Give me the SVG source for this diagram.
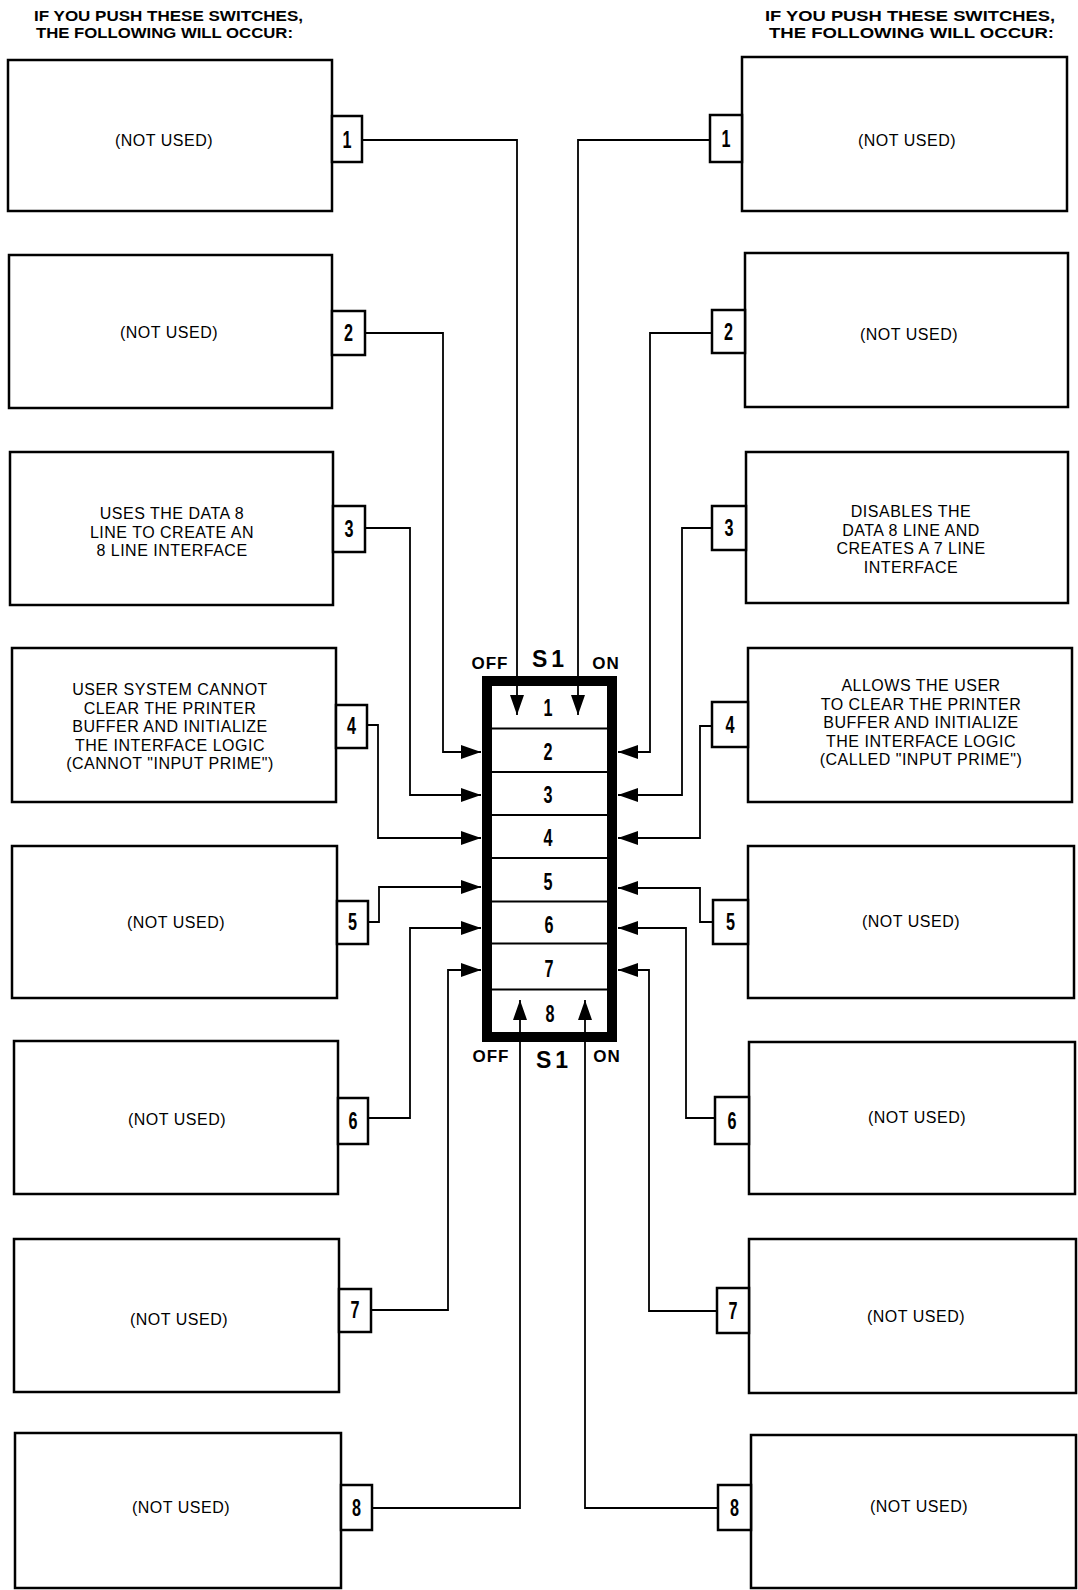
<svg xmlns="http://www.w3.org/2000/svg" width="1078" height="1590" viewBox="0 0 1078 1590">
<style>
.box{fill:#fff;stroke:#000;stroke-width:2.5}
.tab{fill:#fff;stroke:#000;stroke-width:2.5}
.wire{fill:none;stroke:#000;stroke-width:1.8}
.t{font-family:"Liberation Sans",Arial,sans-serif;font-size:16px;letter-spacing:0.5px;text-anchor:middle;fill:#000}
.d{font-family:"Liberation Sans",Arial,sans-serif;font-weight:bold;font-size:23px;text-anchor:middle;fill:#000}
.h{font-family:"Liberation Sans",Arial,sans-serif;font-weight:bold;font-size:14px;fill:#000}
.lab{font-family:"Liberation Sans",Arial,sans-serif;font-weight:bold;font-size:17px;letter-spacing:1px;text-anchor:middle;fill:#000}
.s1{font-family:"Liberation Sans",Arial,sans-serif;font-weight:bold;font-size:23px;letter-spacing:4px;text-anchor:middle;fill:#000}
.row{stroke:#000;stroke-width:2}
</style>
<defs>
<marker id="ah" markerUnits="userSpaceOnUse" markerWidth="22" markerHeight="14" refX="20" refY="7" orient="auto"><path d="M0,0 L20,7 L0,14 Z" fill="#000"/></marker>
</defs>

<g id="headers">
<text class="h" x="34" y="21" textLength="269" lengthAdjust="spacingAndGlyphs">IF YOU PUSH THESE SWITCHES,</text>
<text class="h" x="36" y="37.5" textLength="257" lengthAdjust="spacingAndGlyphs">THE FOLLOWING WILL OCCUR:</text>
<text class="h" x="765" y="21" textLength="290" lengthAdjust="spacingAndGlyphs">IF YOU PUSH THESE SWITCHES,</text>
<text class="h" x="769" y="37.5" textLength="285" lengthAdjust="spacingAndGlyphs">THE FOLLOWING WILL OCCUR:</text>
</g>

<g id="switch-s1">
<rect x="487" y="681" width="125" height="356" fill="#fff" stroke="#000" stroke-width="10"/>
<line class="row" x1="492" y1="728.5" x2="607" y2="728.5"/>
<line class="row" x1="492" y1="772" x2="607" y2="772"/>
<line class="row" x1="492" y1="815" x2="607" y2="815"/>
<line class="row" x1="492" y1="858" x2="607" y2="858"/>
<line class="row" x1="492" y1="901.5" x2="607" y2="901.5"/>
<line class="row" x1="492" y1="943.5" x2="607" y2="943.5"/>
<line class="row" x1="492" y1="989.5" x2="607" y2="989.5"/>
<text class="d" x="548" y="716" textLength="9" lengthAdjust="spacingAndGlyphs">1</text>
<text class="d" x="548" y="760" textLength="9" lengthAdjust="spacingAndGlyphs">2</text>
<text class="d" x="548" y="803" textLength="9" lengthAdjust="spacingAndGlyphs">3</text>
<text class="d" x="548" y="846" textLength="9" lengthAdjust="spacingAndGlyphs">4</text>
<text class="d" x="548" y="890" textLength="9" lengthAdjust="spacingAndGlyphs">5</text>
<text class="d" x="549" y="933" textLength="9" lengthAdjust="spacingAndGlyphs">6</text>
<text class="d" x="549" y="977" textLength="9" lengthAdjust="spacingAndGlyphs">7</text>
<text class="d" x="550" y="1022" textLength="9" lengthAdjust="spacingAndGlyphs">8</text>
<text class="lab" x="490" y="669">OFF</text>
<text class="s1" x="550" y="667">S1</text>
<text class="lab" x="606" y="669">ON</text>
<text class="lab" x="491" y="1062">OFF</text>
<text class="s1" x="554" y="1068">S1</text>
<text class="lab" x="607" y="1062">ON</text>
</g>

<g id="off-1"><rect class="box" x="8" y="60" width="324" height="151"/><rect class="tab" x="332" y="116" width="30" height="46"/><text class="t" x="164" y="146">(NOT USED)</text><text class="d" x="347" y="148" textLength="9" lengthAdjust="spacingAndGlyphs">1</text></g>
<g id="off-2"><rect class="box" x="9" y="255" width="323" height="153"/><rect class="tab" x="332" y="311" width="33" height="44"/><text class="t" x="169" y="338">(NOT USED)</text><text class="d" x="348.5" y="341" textLength="9" lengthAdjust="spacingAndGlyphs">2</text></g>
<g id="off-3"><rect class="box" x="10" y="452" width="323" height="153"/><rect class="tab" x="333" y="506" width="32" height="46"/><text class="t" x="172" y="519">USES THE DATA 8</text><text class="t" x="172" y="537.5">LINE TO CREATE AN</text><text class="t" x="172" y="556">8 LINE INTERFACE</text><text class="d" x="349" y="537" textLength="9" lengthAdjust="spacingAndGlyphs">3</text></g>
<g id="off-4"><rect class="box" x="12" y="648" width="324" height="154"/><rect class="tab" x="336" y="705" width="31" height="43"/><text class="t" x="170" y="695">USER SYSTEM CANNOT</text><text class="t" x="170" y="713.5">CLEAR THE PRINTER</text><text class="t" x="170" y="732">BUFFER AND INITIALIZE</text><text class="t" x="170" y="750.5">THE INTERFACE LOGIC</text><text class="t" x="170" y="769">(CANNOT "INPUT PRIME")</text><text class="d" x="351.5" y="734" textLength="9" lengthAdjust="spacingAndGlyphs">4</text></g>
<g id="off-5"><rect class="box" x="12" y="846" width="325" height="152"/><rect class="tab" x="337" y="901" width="31" height="43"/><text class="t" x="176" y="928">(NOT USED)</text><text class="d" x="352.5" y="930" textLength="9" lengthAdjust="spacingAndGlyphs">5</text></g>
<g id="off-6"><rect class="box" x="14" y="1041" width="324" height="153"/><rect class="tab" x="338" y="1098" width="30" height="46"/><text class="t" x="177" y="1125">(NOT USED)</text><text class="d" x="353" y="1129" textLength="9" lengthAdjust="spacingAndGlyphs">6</text></g>
<g id="off-7"><rect class="box" x="14" y="1239" width="325" height="153"/><rect class="tab" x="339" y="1289" width="32" height="43"/><text class="t" x="179" y="1325">(NOT USED)</text><text class="d" x="355" y="1318" textLength="9" lengthAdjust="spacingAndGlyphs">7</text></g>
<g id="off-8"><rect class="box" x="15" y="1433" width="326" height="155"/><rect class="tab" x="341" y="1485" width="31" height="45"/><text class="t" x="181" y="1513">(NOT USED)</text><text class="d" x="356.5" y="1516" textLength="9" lengthAdjust="spacingAndGlyphs">8</text></g>

<g id="on-1"><rect class="box" x="742" y="57" width="325" height="154"/><rect class="tab" x="710" y="115" width="32" height="47"/><text class="t" x="907" y="146">(NOT USED)</text><text class="d" x="726" y="147" textLength="9" lengthAdjust="spacingAndGlyphs">1</text></g>
<g id="on-2"><rect class="box" x="745" y="253" width="323" height="154"/><rect class="tab" x="712" y="310" width="33" height="43"/><text class="t" x="909" y="340">(NOT USED)</text><text class="d" x="728.5" y="340" textLength="9" lengthAdjust="spacingAndGlyphs">2</text></g>
<g id="on-3"><rect class="box" x="746" y="452" width="322" height="151"/><rect class="tab" x="712" y="506" width="34" height="44"/><text class="t" x="911" y="517">DISABLES THE</text><text class="t" x="911" y="535.5">DATA 8 LINE AND</text><text class="t" x="911" y="554">CREATES A 7 LINE</text><text class="t" x="911" y="572.5">INTERFACE</text><text class="d" x="729" y="536" textLength="9" lengthAdjust="spacingAndGlyphs">3</text></g>
<g id="on-4"><rect class="box" x="748" y="648" width="324" height="154"/><rect class="tab" x="712" y="702" width="36" height="45"/><text class="t" x="921" y="691">ALLOWS THE USER</text><text class="t" x="921" y="709.5">TO CLEAR THE PRINTER</text><text class="t" x="921" y="728">BUFFER AND INITIALIZE</text><text class="t" x="921" y="746.5">THE INTERFACE LOGIC</text><text class="t" x="921" y="765">(CALLED "INPUT PRIME")</text><text class="d" x="730" y="733" textLength="9" lengthAdjust="spacingAndGlyphs">4</text></g>
<g id="on-5"><rect class="box" x="748" y="846" width="326" height="152"/><rect class="tab" x="713" y="900" width="35" height="44"/><text class="t" x="911" y="927">(NOT USED)</text><text class="d" x="730.5" y="930" textLength="9" lengthAdjust="spacingAndGlyphs">5</text></g>
<g id="on-6"><rect class="box" x="749" y="1042" width="326" height="152"/><rect class="tab" x="715" y="1097" width="34" height="47"/><text class="t" x="917" y="1123">(NOT USED)</text><text class="d" x="732" y="1129" textLength="9" lengthAdjust="spacingAndGlyphs">6</text></g>
<g id="on-7"><rect class="box" x="749" y="1239" width="327" height="154"/><rect class="tab" x="717" y="1288" width="32" height="45"/><text class="t" x="916" y="1322">(NOT USED)</text><text class="d" x="733" y="1319" textLength="9" lengthAdjust="spacingAndGlyphs">7</text></g>
<g id="on-8"><rect class="box" x="751" y="1435" width="325" height="153"/><rect class="tab" x="718" y="1485" width="33" height="45"/><text class="t" x="919" y="1512">(NOT USED)</text><text class="d" x="734.5" y="1516" textLength="9" lengthAdjust="spacingAndGlyphs">8</text></g>

<g id="connectors" class="wire">
<polyline class="wire" points="362,140 517,140 517,715" marker-end="url(#ah)"/>
<polyline class="wire" points="365,333 443,333 443,752 481,752" marker-end="url(#ah)"/>
<polyline class="wire" points="365,528 410,528 410,795 481,795" marker-end="url(#ah)"/>
<polyline class="wire" points="367,725 378,725 378,838 481,838" marker-end="url(#ah)"/>
<polyline class="wire" points="368,922 379,922 379,887 481,887" marker-end="url(#ah)"/>
<polyline class="wire" points="368,1118 410,1118 410,928 481,928" marker-end="url(#ah)"/>
<polyline class="wire" points="371,1310 448,1310 448,970 481,970" marker-end="url(#ah)"/>
<polyline class="wire" points="372,1508 520,1508 520,1000" marker-end="url(#ah)"/>
<polyline class="wire" points="710,140 578,140 578,715" marker-end="url(#ah)"/>
<polyline class="wire" points="712,333 650,333 650,752 618,752" marker-end="url(#ah)"/>
<polyline class="wire" points="712,528 682,528 682,795 618,795" marker-end="url(#ah)"/>
<polyline class="wire" points="712,726 700,726 700,838 618,838" marker-end="url(#ah)"/>
<polyline class="wire" points="713,922 700,922 700,888 618,888" marker-end="url(#ah)"/>
<polyline class="wire" points="715,1118 686,1118 686,928 618,928" marker-end="url(#ah)"/>
<polyline class="wire" points="717,1311 649,1311 649,970 618,970" marker-end="url(#ah)"/>
<polyline class="wire" points="718,1508 585,1508 585,1000" marker-end="url(#ah)"/>
</g>
</svg>
